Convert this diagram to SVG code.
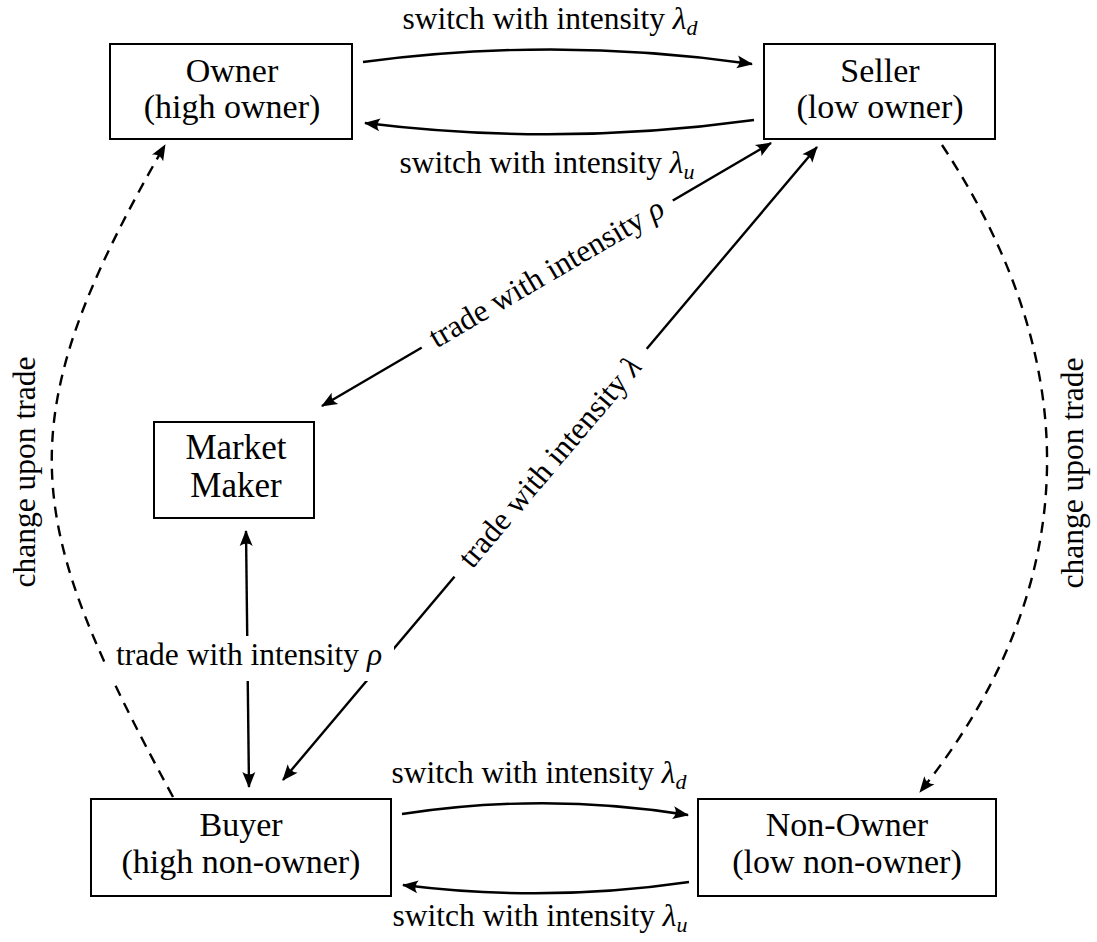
<svg xmlns="http://www.w3.org/2000/svg" width="1097" height="942" viewBox="0 0 1097 942">
<style>
.box{fill:#fff;stroke:#000;stroke-width:2}
text{font-family:'Liberation Serif','Times New Roman','DejaVu Serif',serif;fill:#000;text-anchor:middle}
.nt{font-size:34px}
.mm{font-size:35px}
.et{font-size:31.5px}
.m{font-style:italic}
.sub{font-style:italic;font-size:22px}
.ln{fill:none;stroke:#000;stroke-width:2.4}
.dash{fill:none;stroke:#000;stroke-width:2.4;stroke-dasharray:11 8}
.bg{fill:#fff;stroke:none}
</style>
<defs>
<marker id="arr" viewBox="-18 -9 20 18" refX="0" refY="0" markerWidth="20" markerHeight="18" markerUnits="userSpaceOnUse" orient="auto-start-reverse">
<path d="M1,0 L-15,-6.5 Q-10,0 -15,6.5 Z" fill="#000"/>
</marker>
</defs>
<rect width="1097" height="942" fill="#fff"/>
<g id="connectors">
<path id="e-owner-seller" class="ln" d="M363,62 Q558,36 752,64" marker-end="url(#arr)"/>
<path id="e-seller-owner" class="ln" d="M754,120 Q559,147 365,123" marker-end="url(#arr)"/>
<path id="e-buyer-nonowner" class="ln" d="M402,814 Q546,792 688,815" marker-end="url(#arr)"/>
<path id="e-nonowner-buyer" class="ln" d="M689,882 Q546,903 403,885" marker-end="url(#arr)"/>
<path id="e-seller-mm" class="ln" d="M771,143 L322,406" marker-start="url(#arr)" marker-end="url(#arr)"/>
<path id="e-seller-buyer" class="ln" d="M817,147 L283,780" marker-start="url(#arr)" marker-end="url(#arr)"/>
<path id="e-mm-buyer" class="ln" d="M246,531 L249,787" marker-start="url(#arr)" marker-end="url(#arr)"/>
<path id="e-buyer-owner" class="dash" d="M173,797 C23,520 3,426 165,145" marker-end="url(#arr)"/>
<path id="e-seller-nonowner" class="dash" d="M942,145 C1087,364 1084,587 920,792" marker-end="url(#arr)"/>
</g>
<g id="edge-labels">
<text class="et" x="550" y="29">switch with intensity <tspan class="m">λ</tspan><tspan class="sub" dy="6">d</tspan></text>
<text class="et" x="547" y="173">switch with intensity <tspan class="m">λ</tspan><tspan class="sub" dy="6">u</tspan></text>
<text class="et" x="539" y="783">switch with intensity <tspan class="m">λ</tspan><tspan class="sub" dy="6">d</tspan></text>
<text class="et" x="540" y="926">switch with intensity <tspan class="m">λ</tspan><tspan class="sub" dy="6">u</tspan></text>
<g transform="translate(547.5,274.5) rotate(-30.3)">
<rect class="bg" x="-145.5" y="-23" width="291" height="46"/>
<text class="et" x="0" y="8">trade with intensity <tspan class="m">ρ</tspan></text>
</g>
<g transform="translate(551.5,463.5) rotate(-49.8)">
<rect class="bg" x="-149" y="-23" width="298" height="46"/>
<text class="et" x="0" y="8">trade with intensity <tspan class="m">λ</tspan></text>
</g>
<rect class="bg" x="105" y="636" width="289" height="45"/>
<text class="et" x="249" y="665">trade with intensity <tspan class="m">ρ</tspan></text>
<text class="et" transform="translate(28,472) rotate(-90)" x="0" y="7">change upon trade</text>
<text class="et" transform="translate(1076,473) rotate(-90)" x="0" y="7">change upon trade</text>
</g>
<g id="node-owner">
<rect class="box" x="110" y="44" width="242" height="95"/>
<text class="nt" x="232" y="82">Owner</text>
<text class="nt" x="232" y="118">(high owner)</text>
</g>
<g id="node-seller">
<rect class="box" x="764" y="44" width="231" height="95"/>
<text class="nt" x="880" y="82">Seller</text>
<text class="nt" x="880" y="118">(low owner)</text>
</g>
<g id="node-marketmaker">
<rect class="box" x="154" y="422" width="160" height="96"/>
<text class="mm" x="236" y="459">Market</text>
<text class="mm" x="236" y="497">Maker</text>
</g>
<g id="node-buyer">
<rect class="box" x="91" y="799" width="300" height="97"/>
<text class="nt" x="241" y="836">Buyer</text>
<text class="nt" x="241" y="873">(high non-owner)</text>
</g>
<g id="node-nonowner">
<rect class="box" x="698" y="799" width="298" height="97"/>
<text class="nt" x="847" y="836">Non-Owner</text>
<text class="nt" x="847" y="873">(low non-owner)</text>
</g>
</svg>
